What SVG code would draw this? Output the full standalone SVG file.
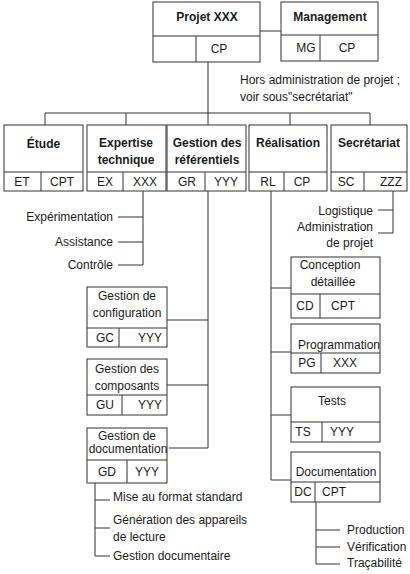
<svg xmlns="http://www.w3.org/2000/svg" width="410" height="574" viewBox="0 0 410 574">
<style>
.box{fill:#fff;stroke:#333;stroke-width:1}
.ln{fill:none;stroke:#333;stroke-width:1}
text{font-family:"Liberation Sans",Arial,sans-serif;font-size:12px;fill:#1a1a1a;dominant-baseline:central}
.b{font-weight:bold}
.m{text-anchor:middle}
.e{text-anchor:end}
</style>
<rect width="410" height="574" fill="#fff"/>
<g id="connectors" class="ln">
<path d="M260,31H281"/>
<path d="M208,62V113"/>
<path d="M45,113H370"/>
<path d="M45,113V125M126,113V125M208,113V125M290,113V125M370,113V125"/>
<path d="M143,191V265M118,217H143M118,242H143M118,265H143"/>
<path d="M208,191V448H169M167,320H208M167,385H208"/>
<path d="M95,483V556H110M95,500H110M95,528H110"/>
<path d="M271,191V480H291M271,288H291M271,352H291M271,415H291"/>
<path d="M393,191V233H378M378,210H393"/>
<path d="M316,502V564H340M316,530H340M316,547H340"/>
</g>
<g id="projet">
<rect class="box" x="153" y="2" width="107" height="60"/>
<path class="ln" d="M153,36H260M196,36V62"/>
<text class="b m" x="207" y="17">Projet XXX</text>
<text class="m" x="219" y="49">CP</text>
</g>
<g id="management">
<rect class="box" x="281" y="2" width="97" height="59"/>
<path class="ln" d="M281,35H378M320,35V61"/>
<text class="b m" x="330" y="17">Management</text>
<text class="m" x="306" y="48">MG</text>
<text class="m" x="347" y="48">CP</text>
</g>
<g id="note-hors">
<text x="240" y="80">Hors administration de projet ;</text>
<text x="240" y="97">voir sous"secrétariat"</text>
</g>
<g id="etude">
<rect class="box" x="4" y="125" width="79" height="66"/>
<path class="ln" d="M4,172H83M41,172V191"/>
<text class="b m" x="43.5" y="144">Étude</text>
<text class="m" x="22" y="182">ET</text>
<text class="m" x="62" y="182">CPT</text>
</g>
<g id="expertise">
<rect class="box" x="87" y="125" width="79" height="66"/>
<path class="ln" d="M87,172H166M123,172V191"/>
<text class="b m" x="126" y="143">Expertise</text>
<text class="b m" x="126" y="160">technique</text>
<text class="m" x="105" y="182">EX</text>
<text class="m" x="145" y="182">XXX</text>
</g>
<g id="gestion-referentiels">
<rect class="box" x="167" y="125" width="79" height="66"/>
<path class="ln" d="M167,172H246M205,172V191"/>
<text class="b m" x="207" y="143">Gestion des</text>
<text class="b m" x="207" y="160">référentiels</text>
<text class="m" x="187" y="182">GR</text>
<text class="m" x="226" y="182">YYY</text>
</g>
<g id="realisation">
<rect class="box" x="249" y="125" width="78" height="66"/>
<path class="ln" d="M249,172H327M284,172V191"/>
<text class="b m" x="288" y="143">Réalisation</text>
<text class="m" x="268" y="182">RL</text>
<text class="m" x="302" y="182">CP</text>
</g>
<g id="secretariat">
<rect class="box" x="331" y="125" width="76" height="66"/>
<path class="ln" d="M331,172H407M364,172V191"/>
<text class="b m" x="369" y="143">Secrétariat</text>
<text class="m" x="346" y="182">SC</text>
<text class="m" x="391" y="182">ZZZ</text>
</g>
<g id="expertise-items">
<text class="e" x="113" y="217">Expérimentation</text>
<text class="e" x="113" y="242">Assistance</text>
<text class="e" x="113" y="265">Contrôle</text>
</g>
<g id="secretariat-items">
<text class="e" x="373" y="211">Logistique</text>
<text class="e" x="373" y="227">Administration</text>
<text class="e" x="373" y="243">de projet</text>
</g>
<g id="gestion-configuration">
<rect class="box" x="87" y="287" width="80" height="60"/>
<path class="ln" d="M87,328H167M119,328V347"/>
<text class="m" x="127" y="296">Gestion de</text>
<text class="m" x="127" y="313">configuration</text>
<text class="m" x="105" y="338">GC</text>
<text class="m" x="150" y="338">YYY</text>
</g>
<g id="gestion-composants">
<rect class="box" x="87" y="359" width="80" height="56"/>
<path class="ln" d="M87,395H167M122,395V415"/>
<text class="m" x="127" y="369">Gestion des</text>
<text class="m" x="127" y="386">composants</text>
<text class="m" x="105" y="405">GU</text>
<text class="m" x="150" y="405">YYY</text>
</g>
<g id="gestion-documentation">
<rect class="box" x="87" y="428" width="80" height="55"/>
<path class="ln" d="M87,460H167M127,460V483"/>
<text class="m" x="127" y="436">Gestion de</text>
<text class="m" x="128" y="449">documentation</text>
<text class="m" x="107" y="472">GD</text>
<text class="m" x="147" y="472">YYY</text>
</g>
<g id="documentation-items">
<text x="113" y="497">Mise au format standard</text>
<text x="113" y="520">Génération des appareils</text>
<text x="113" y="537">de lecture</text>
<text x="113" y="556">Gestion documentaire</text>
</g>
<g id="conception">
<rect class="box" x="291" y="257" width="89" height="61"/>
<path class="ln" d="M291,294H380M320,294V318"/>
<text class="m" x="330" y="265">Conception</text>
<text class="m" x="333" y="282">détaillée</text>
<text class="m" x="305" y="306">CD</text>
<text class="m" x="343" y="306">CPT</text>
</g>
<g id="programmation">
<rect class="box" x="291" y="324" width="89" height="49"/>
<path class="ln" d="M291,353H380M321,353V373"/>
<text x="298" y="345">Programmation</text>
<text class="m" x="307" y="363">PG</text>
<text class="m" x="345" y="363">XXX</text>
</g>
<g id="tests">
<rect class="box" x="291" y="387" width="89" height="55"/>
<path class="ln" d="M291,422H380M322,422V442"/>
<text class="m" x="332" y="401">Tests</text>
<text class="m" x="303" y="432">TS</text>
<text class="m" x="342" y="432">YYY</text>
</g>
<g id="documentation">
<rect class="box" x="291" y="452" width="89" height="50"/>
<path class="ln" d="M291,482H380M315,482V502"/>
<text class="m" x="336" y="472">Documentation</text>
<text class="m" x="303" y="492">DC</text>
<text class="m" x="334" y="492">CPT</text>
</g>
<g id="realisation-doc-items">
<text x="347" y="530">Production</text>
<text x="347" y="547">Vérification</text>
<text x="347" y="563">Traçabilité</text>
</g>
</svg>
